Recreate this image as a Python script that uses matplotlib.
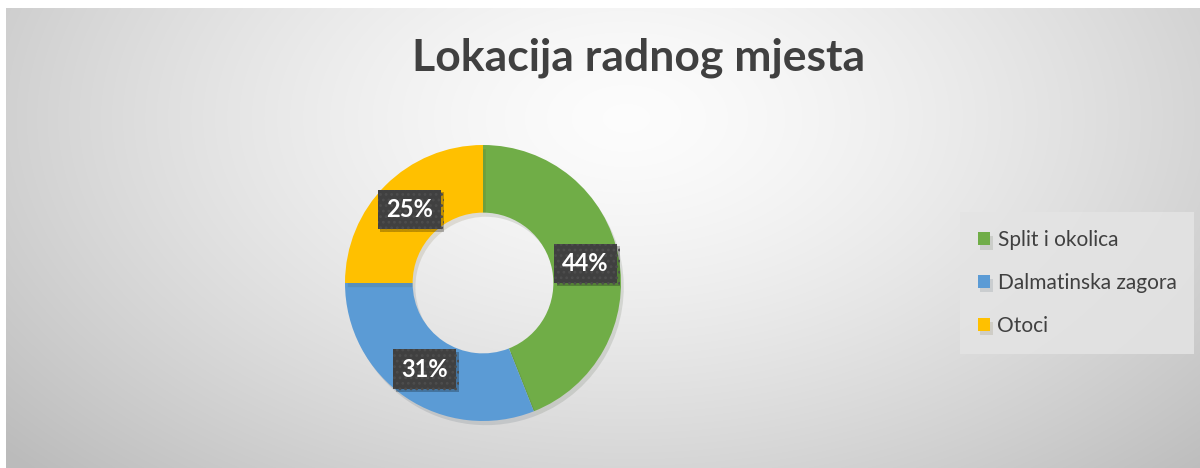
import matplotlib
matplotlib.use("Agg")
import matplotlib.pyplot as plt
import matplotlib.patheffects as pe
import numpy as np

plt.rcParams["font.family"] = ["Lato", "DejaVu Sans"]
plt.rcParams["hatch.color"] = "#555555"
plt.rcParams["hatch.linewidth"] = 1.2

# data
categories = ["Split i okolica", "Dalmatinska zagora", "Otoci"]
shares = [44, 31, 25]
colors = ["#70AD47", "#5B9BD5", "#FFC000"]
title = "Lokacija radnog mjesta"

W, H = 1200, 468
fig = plt.figure(figsize=(W / 100, H / 100), dpi=100)
fig.patch.set_facecolor("white")

# radial gradient background, lightest near the top middle
bg = fig.add_axes([6 / W, 0, (W - 6) / W, (H - 8) / H])
yy, xx = np.mgrid[0:460, 0:1194]
d = np.sqrt(((xx - 620) / 720) ** 2 + ((yy - 110) / 440) ** 2)
d = np.clip(d, 0, 1.15)
shade = 0.99 - 0.21 * d ** 1.4
bg.imshow(np.dstack([shade] * 3), aspect="auto", extent=[0, 1, 0, 1], origin="upper")
bg.set_axis_off()

# donut
cx, cy, r = 483, 283, 138
ax = fig.add_axes([(cx - r) / W, (H - cy - r) / H, 2 * r / W, 2 * r / H])
wedges, texts, autotexts = ax.pie(
    shares, colors=colors, startangle=90, counterclock=False,
    wedgeprops=dict(width=0.49, edgecolor="none"),
    autopct="%1.0f%%", pctdistance=0.755,
    textprops=dict(color="white", fontsize=17, fontweight="bold"),
)
for w in wedges:
    w.set_path_effects([pe.SimplePatchShadow(offset=(2, -3), alpha=0.12), pe.Normal()])
for t in autotexts:
    t.set_bbox(dict(boxstyle="square,pad=0.35", facecolor="#404040",
                    edgecolor="#4d4d4d", linewidth=0, hatch="..."))
    t.get_bbox_patch().set_path_effects(
        [pe.SimplePatchShadow(offset=(2, -2), shadow_rgbFace="black", alpha=0.25), pe.Normal()])
ax.set_xlim(-1, 1)
ax.set_ylim(-1, 1)

fig.text(639 / W, 1 - 58 / H, title, ha="center", va="center",
         fontsize=32, fontweight="bold", color="#404040")

leg = fig.legend(wedges, categories, loc="center left",
                 bbox_to_anchor=(960 / W, 1 - 283 / H),
                 fontsize=15, frameon=True, fancybox=False,
                 handlelength=0.6, handleheight=0.6, handletextpad=0.35,
                 labelspacing=1.1, borderpad=0.85, borderaxespad=0)
leg.get_frame().set_facecolor("#e4e4e4")
leg.get_frame().set_edgecolor("none")
leg.get_frame().set_alpha(0.85)
for t in leg.get_texts():
    t.set_color("#404040")

plt.savefig("out.png", dpi=100)
print("Saved: out.png")
